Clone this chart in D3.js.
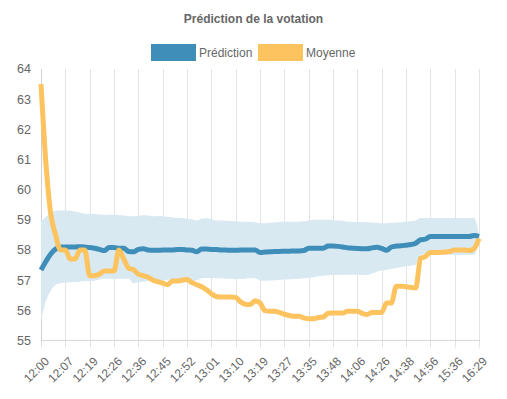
<!DOCTYPE html>
<html>
<head>
<meta charset="utf-8">
<script src="https://cdn.jsdelivr.net/npm/d3@7"></script>
<style>
  html, body { margin: 0; padding: 0; background: #fff; }
  svg { display: block; font-family: "Liberation Sans", Arial, sans-serif; }
</style>
</head>
<body>
<svg id="chart" width="507" height="399"></svg>
<script>
// tick labels shown on the x axis (one every 5 samples)
var timeLabels = ["12:00", "12:07", "12:19", "12:26", "12:36", "12:45", "12:52", "13:01", "13:10",
    "13:19", "13:27", "13:35", "13:48", "14:06", "14:26", "14:38", "14:56", "15:36", "16:29"];
var labelStep = 5;

var prediction = [57.34, 57.62, 57.87, 58.03, 58.10, 58.10, 58.10, 58.10, 58.11, 58.10,
    58.08, 58.06, 58.02, 57.98, 58.08, 58.08, 58.06, 58.06, 57.95, 57.94,
    58.02, 58.04, 58.00, 57.99, 57.99, 58.00, 58.00, 58.00, 58.02, 58.02,
    58.00, 57.99, 57.94, 58.03, 58.03, 58.02, 58.02, 58.00, 58.00, 57.99,
    57.99, 58.00, 58.00, 58.00, 58.00, 57.92, 57.93, 57.94, 57.95, 57.95,
    57.96, 57.96, 57.97, 57.97, 57.98, 58.06, 58.06, 58.06, 58.06, 58.13,
    58.13, 58.12, 58.10, 58.07, 58.06, 58.05, 58.04, 58.04, 58.07, 58.09,
    58.05, 57.99, 58.10, 58.13, 58.14, 58.16, 58.18, 58.22, 58.34, 58.36,
    58.45, 58.45, 58.45, 58.45, 58.45, 58.45, 58.45, 58.45, 58.45, 58.48,
    58.45];

var moyenne = [63.5, 60.9, 59.2, 58.5, 58.0, 58.0, 57.7, 57.7, 58.0, 58.0,
    57.15, 57.15, 57.2, 57.3, 57.3, 57.3, 58.0, 57.7, 57.4, 57.35,
    57.2, 57.15, 57.1, 57.0, 56.95, 56.9, 56.85, 56.97, 56.97, 57.0,
    57.02, 56.92, 56.85, 56.78, 56.68, 56.55, 56.46, 56.44, 56.44, 56.44,
    56.43, 56.28, 56.2, 56.19, 56.32, 56.25, 55.99, 55.97, 55.97, 55.93,
    55.87, 55.83, 55.8, 55.8, 55.75, 55.72, 55.72, 55.76, 55.78, 55.9,
    55.91, 55.91, 55.91, 55.97, 55.97, 55.97, 55.9, 55.86, 55.93, 55.93,
    55.93, 56.24, 56.24, 56.8, 56.8, 56.78, 56.76, 56.74, 57.73, 57.78,
    57.92, 57.92, 57.92, 57.93, 57.95, 58.0, 58.0, 58.0, 57.98, 58.05,
    58.38];

var upper = [58.94, 59.10, 59.22, 59.30, 59.31, 59.31, 59.30, 59.28, 59.24, 59.20,
    59.20, 59.19, 59.18, 59.16, 59.17, 59.17, 59.16, 59.14, 59.13, 59.12,
    59.13, 59.15, 59.14, 59.12, 59.13, 59.12, 59.10, 59.08, 59.07, 59.06,
    59.04, 59.02, 58.98, 59.04, 59.05, 59.02, 58.98, 58.98, 58.97, 58.96,
    58.95, 58.94, 58.94, 58.93, 58.92, 58.89, 58.89, 58.90, 58.92, 58.93,
    58.94, 58.94, 58.94, 58.94, 58.95, 58.98, 59.00, 59.00, 59.00, 59.00,
    58.99, 58.98, 58.97, 58.94, 58.94, 58.93, 58.93, 58.92, 58.91, 58.90,
    58.89, 58.89, 58.90, 58.91, 58.92, 58.94, 58.96, 58.98, 59.06, 59.06,
    59.06, 59.06, 59.06, 59.06, 59.06, 59.06, 59.06, 59.06, 59.06, 59.06,
    58.50];

var lower = [55.63, 56.30, 56.65, 56.85, 56.90, 56.92, 56.93, 56.94, 56.95, 56.96,
    56.96, 56.98, 57.02, 57.05, 57.05, 57.05, 57.05, 57.05, 57.05, 56.90,
    56.93, 56.95, 56.97, 56.99, 57.00, 57.00, 57.01, 57.01, 57.02, 57.02,
    57.01, 57.00, 56.99, 57.06, 57.07, 57.07, 57.06, 57.06, 57.05, 57.05,
    57.04, 57.04, 57.05, 57.06, 57.06, 56.99, 56.98, 56.99, 57.00, 57.01,
    57.02, 57.03, 57.04, 57.05, 57.06, 57.08, 57.10, 57.13, 57.15, 57.16,
    57.17, 57.17, 57.18, 57.18, 57.18, 57.18, 57.17, 57.17, 57.22, 57.28,
    57.32, 57.34, 57.37, 57.40, 57.43, 57.46, 57.48, 57.51, 57.84, 57.84,
    57.84, 57.84, 57.84, 57.84, 57.84, 57.84, 57.84, 57.84, 57.84, 57.84,
    58.40];

var yTicks = [55, 56, 57, 58, 59, 60, 61, 62, 63, 64];

var blue = "#3e8eb9", orange = "#fcc35e", band = "#d9e9f2",
    textColor = "#666", gridColor = "#e3e3e3";

(function () {
    var svg = d3.select("#chart");
    var plotLeft = 41, plotRight = 479, plotTop = 69, plotBottom = 340.5;

    var x = d3.scaleLinear().domain([0, prediction.length - 1]).range([plotLeft, plotRight]);
    var y = d3.scaleLinear().domain([55, 64]).range([plotBottom, plotTop]);

    // title
    svg.append("text")
        .attr("x", 253.5).attr("y", 23)
        .attr("text-anchor", "middle")
        .attr("font-size", 12).attr("font-weight", "bold")
        .attr("fill", textColor)
        .text("Prédiction de la votation");

    // legend
    var legend = [
        { name: "Prédiction", color: blue, bx: 151, tx: 199 },
        { name: "Moyenne", color: orange, bx: 258, tx: 306 }
    ];
    var lg = svg.append("g").attr("class", "legend");
    lg.selectAll("rect").data(legend).enter().append("rect")
        .attr("x", function (d) { return d.bx; })
        .attr("y", 44)
        .attr("width", 45).attr("height", 17)
        .attr("fill", function (d) { return d.color; });
    lg.selectAll("text").data(legend).enter().append("text")
        .attr("x", function (d) { return d.tx; })
        .attr("y", 57)
        .attr("font-size", 12)
        .attr("fill", textColor)
        .text(function (d) { return d.name; });

    // vertical grid lines (extend under the axis as ticks)
    var tickIdx = timeLabels.map(function (t, i) { return i * labelStep; });
    svg.append("g").selectAll("line").data(tickIdx).enter().append("line")
        .attr("x1", function (d) { return Math.round(x(d)) + 0.5; })
        .attr("x2", function (d) { return Math.round(x(d)) + 0.5; })
        .attr("y1", plotTop).attr("y2", plotBottom + 7)
        .attr("stroke", gridColor).attr("stroke-width", 1);

    // axis lines
    svg.append("line")
        .attr("x1", plotLeft + 0.5).attr("x2", plotLeft + 0.5)
        .attr("y1", plotTop).attr("y2", plotBottom)
        .attr("stroke", "#d0d0d0");
    svg.append("line")
        .attr("x1", plotLeft).attr("x2", plotRight + 1)
        .attr("y1", plotBottom).attr("y2", plotBottom)
        .attr("stroke", "#d8d8d8");

    // y labels
    svg.append("g").selectAll("text").data(yTicks).enter().append("text")
        .attr("x", 31)
        .attr("y", function (d) { return y(d); })
        .attr("dy", "0.35em")
        .attr("text-anchor", "end")
        .attr("font-size", 12.5)
        .attr("fill", textColor)
        .text(function (d) { return d; });

    // x labels, rotated
    svg.append("g").selectAll("text").data(timeLabels).enter().append("text")
        .attr("transform", function (d, i) {
            return "translate(" + (x(i * labelStep) + 6) + "," + 359 + ") rotate(-45)";
        })
        .attr("text-anchor", "end")
        .attr("dy", "0.35em")
        .attr("font-size", 12)
        .attr("fill", textColor)
        .text(function (d) { return d; });

    // confidence band
    var area = d3.area()
        .x(function (d, i) { return x(i); })
        .y0(function (d, i) { return y(lower[i]); })
        .y1(function (d) { return y(d); })
        .curve(d3.curveMonotoneX);
    svg.append("path")
        .datum(upper)
        .attr("d", area)
        .attr("fill", band);

    var line = d3.line()
        .x(function (d, i) { return x(i); })
        .y(function (d) { return y(d); })
        .curve(d3.curveMonotoneX);

    svg.append("path")
        .datum(prediction)
        .attr("d", line)
        .attr("fill", "none")
        .attr("stroke", blue)
        .attr("stroke-width", 5)
        .attr("stroke-linejoin", "round");

    svg.append("path")
        .datum(moyenne)
        .attr("d", line)
        .attr("fill", "none")
        .attr("stroke", orange)
        .attr("stroke-width", 5)
        .attr("stroke-linejoin", "round");
})();
</script>
</body>
</html>
